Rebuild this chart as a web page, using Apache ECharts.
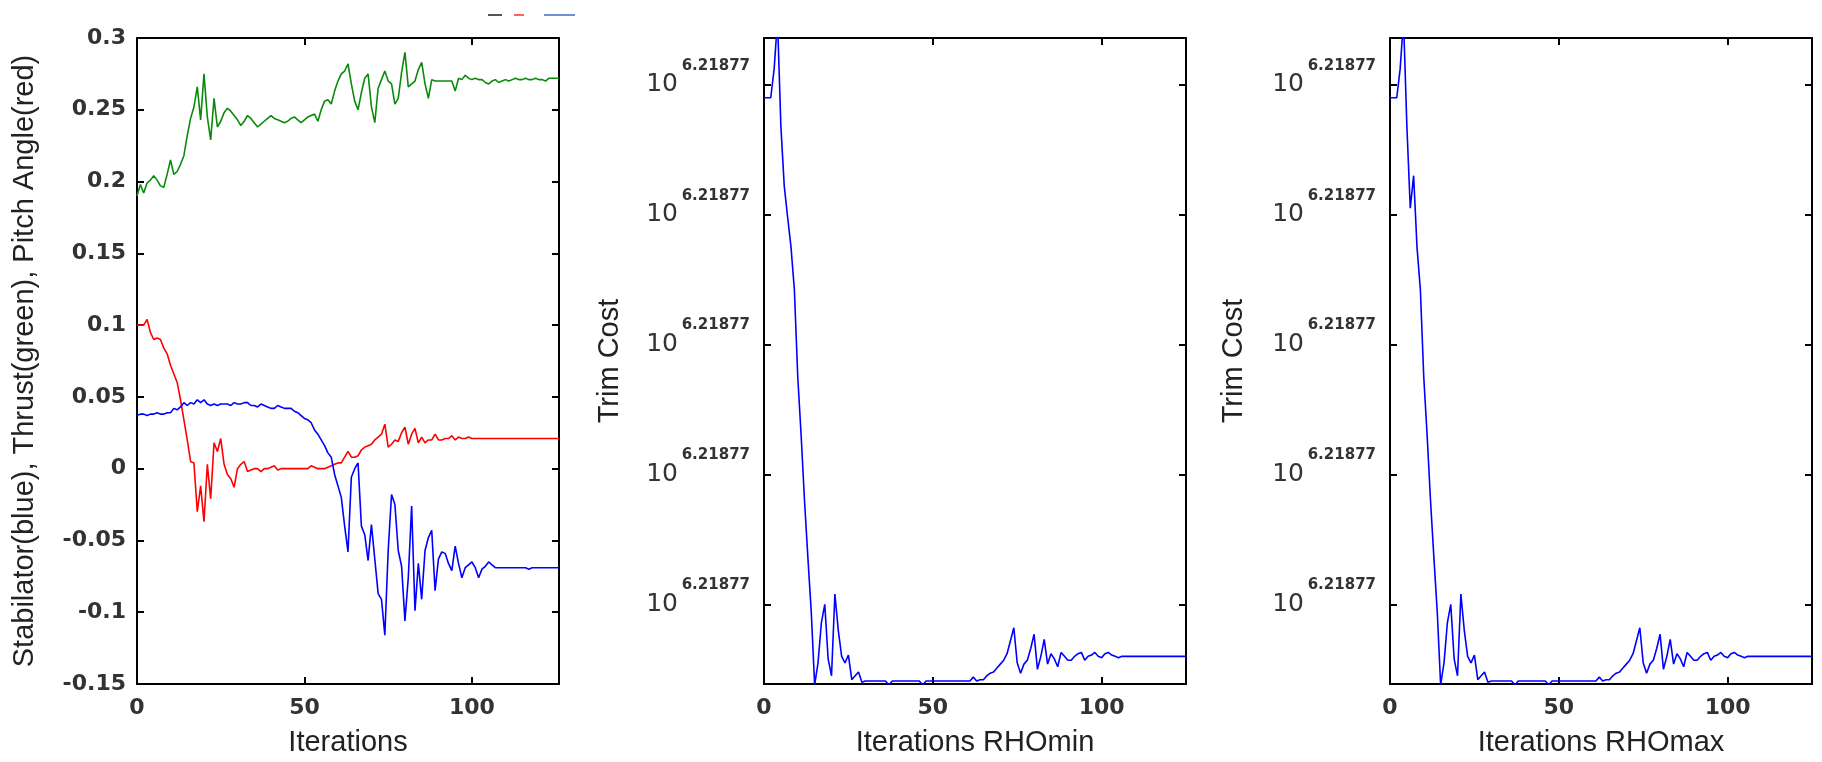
<!DOCTYPE html>
<html><head><meta charset="utf-8">
<script src="https://cdn.jsdelivr.net/npm/echarts@6/dist/echarts.min.js"></script>
<style>html,body{margin:0;padding:0;background:#fff}#c{width:1822px;height:762px}</style>
</head><body><div id="c"></div>
<script>
// ---- data (iteration index = position in array) ----
const thrust = [0.190,0.198,0.192,0.199,0.201,0.204,0.201,0.197,0.196,0.205,
 0.215,0.205,0.207,0.212,0.218,0.232,0.244,0.252,0.266,0.243,
 0.275,0.245,0.229,0.258,0.238,0.242,0.248,0.251,0.249,0.246,
 0.243,0.239,0.242,0.246,0.244,0.241,0.238,0.240,0.242,0.244,
 0.246,0.244,0.243,0.242,0.241,0.242,0.244,0.245,0.243,0.241,
 0.243,0.245,0.246,0.247,0.242,0.250,0.256,0.257,0.254,0.263,
 0.270,0.275,0.277,0.282,0.268,0.256,0.250,0.262,0.272,0.275,
 0.252,0.241,0.265,0.271,0.277,0.270,0.268,0.254,0.258,0.276,
 0.290,0.266,0.268,0.270,0.278,0.283,0.268,0.258,0.271,0.270,
 0.270,0.270,0.270,0.270,0.270,0.263,0.272,0.271,0.274,0.272,
 0.271,0.272,0.271,0.271,0.269,0.268,0.270,0.271,0.269,0.270,
 0.271,0.270,0.271,0.272,0.271,0.271,0.272,0.271,0.271,0.272,
 0.271,0.271,0.270,0.272,0.272,0.272,0.272];

const pitchAngle = [0.100,0.100,0.100,0.104,0.095,0.090,0.091,0.090,0.084,0.080,
 0.072,0.066,0.060,0.048,0.034,0.020,0.005,0.004,-0.030,-0.012,
 -0.037,0.003,-0.021,0.018,0.012,0.021,0.003,-0.004,-0.007,-0.013,
 0.000,0.003,0.005,-0.002,-0.001,0.000,0.000,-0.002,0.000,0.000,
 0.001,0.002,-0.001,0.000,0.000,0.000,0.000,0.000,0.000,0.000,
 0.000,0.000,0.002,0.001,0.000,0.000,0.000,0.001,0.002,0.003,
 0.004,0.004,0.008,0.012,0.008,0.008,0.009,0.013,0.015,0.016,
 0.017,0.020,0.022,0.024,0.031,0.015,0.017,0.020,0.019,0.025,
 0.029,0.017,0.024,0.028,0.018,0.022,0.018,0.020,0.020,0.024,
 0.020,0.020,0.021,0.021,0.023,0.020,0.022,0.021,0.021,0.022,
 0.021,0.021,0.021,0.021,0.021,0.021,0.021,0.021,0.021,0.021,
 0.021,0.021,0.021,0.021,0.021,0.021,0.021,0.021,0.021,0.021,
 0.021,0.021,0.021,0.021,0.021,0.021,0.021];

const stabilator = [0.037,0.038,0.038,0.037,0.038,0.038,0.039,0.038,0.038,0.039,
 0.039,0.042,0.041,0.043,0.046,0.044,0.046,0.045,0.048,0.046,
 0.048,0.045,0.044,0.045,0.044,0.045,0.045,0.045,0.044,0.046,
 0.045,0.045,0.046,0.046,0.044,0.044,0.043,0.045,0.044,0.043,
 0.042,0.042,0.044,0.043,0.042,0.042,0.042,0.040,0.039,0.037,
 0.035,0.034,0.032,0.027,0.024,0.020,0.016,0.011,0.008,-0.004,
 -0.012,-0.020,-0.040,-0.058,-0.006,0.000,0.004,-0.040,-0.046,-0.064,
 -0.039,-0.063,-0.087,-0.091,-0.116,-0.057,-0.018,-0.025,-0.057,-0.068,
 -0.106,-0.076,-0.026,-0.099,-0.066,-0.091,-0.057,-0.048,-0.043,-0.085,
 -0.063,-0.058,-0.059,-0.066,-0.071,-0.054,-0.066,-0.076,-0.069,-0.067,
 -0.065,-0.069,-0.076,-0.070,-0.068,-0.065,-0.067,-0.069,-0.069,-0.069,
 -0.069,-0.069,-0.069,-0.069,-0.069,-0.069,-0.069,-0.070,-0.069,-0.069,
 -0.069,-0.069,-0.069,-0.069,-0.069,-0.069,-0.069];

// Trim cost, expressed as offset in tick steps above the lowest labelled 10^6.21877 tick
const trimCostRhoMin = [3.90,3.90,3.90,4.12,4.50,3.68,3.22,2.98,2.75,2.42,
 1.75,1.30,0.80,0.36,-0.06,-0.62,-0.45,-0.14,0.00,-0.42,
 -0.55,0.08,-0.20,-0.40,-0.45,-0.39,-0.58,-0.55,-0.52,-0.60,
 -0.59,-0.59,-0.59,-0.59,-0.59,-0.59,-0.59,-0.62,-0.59,-0.59,
 -0.59,-0.59,-0.59,-0.59,-0.59,-0.59,-0.59,-0.62,-0.59,-0.59,
 -0.59,-0.59,-0.59,-0.59,-0.59,-0.59,-0.59,-0.59,-0.59,-0.59,
 -0.59,-0.59,-0.56,-0.59,-0.58,-0.58,-0.55,-0.53,-0.52,-0.49,
 -0.46,-0.43,-0.38,-0.28,-0.18,-0.45,-0.53,-0.46,-0.43,-0.34,
 -0.23,-0.50,-0.40,-0.27,-0.46,-0.38,-0.42,-0.48,-0.37,-0.40,
 -0.43,-0.43,-0.40,-0.38,-0.37,-0.43,-0.40,-0.39,-0.37,-0.40,
 -0.41,-0.38,-0.37,-0.39,-0.40,-0.41,-0.40,-0.40,-0.40,-0.40,
 -0.40,-0.40,-0.40,-0.40,-0.40,-0.40,-0.40,-0.40,-0.40,-0.40,
 -0.40,-0.40,-0.40,-0.40,-0.40,-0.40];

const trimCostRhoMax = [3.90,3.90,3.90,4.12,4.50,3.68,3.05,3.30,2.75,2.42,
 1.75,1.30,0.80,0.36,-0.06,-0.62,-0.45,-0.14,0.00,-0.42,
 -0.55,0.08,-0.20,-0.40,-0.45,-0.39,-0.58,-0.55,-0.52,-0.60,
 -0.59,-0.59,-0.59,-0.59,-0.59,-0.59,-0.59,-0.62,-0.59,-0.59,
 -0.59,-0.59,-0.59,-0.59,-0.59,-0.59,-0.59,-0.62,-0.59,-0.59,
 -0.59,-0.59,-0.59,-0.59,-0.59,-0.59,-0.59,-0.59,-0.59,-0.59,
 -0.59,-0.59,-0.56,-0.59,-0.58,-0.58,-0.55,-0.53,-0.52,-0.49,
 -0.46,-0.43,-0.38,-0.28,-0.18,-0.45,-0.53,-0.46,-0.43,-0.34,
 -0.23,-0.50,-0.40,-0.27,-0.46,-0.38,-0.42,-0.48,-0.37,-0.40,
 -0.43,-0.43,-0.40,-0.38,-0.37,-0.43,-0.40,-0.39,-0.37,-0.40,
 -0.41,-0.38,-0.37,-0.39,-0.40,-0.41,-0.40,-0.40,-0.40,-0.40,
 -0.40,-0.40,-0.40,-0.40,-0.40,-0.40,-0.40,-0.40,-0.40,-0.40,
 -0.40,-0.40,-0.40,-0.40,-0.40,-0.40];

const xTickValues = [0, 50, 100];
const costTickValues = [0, 1, 2, 3, 4];
const costTickBase = '10';
const costTickExponent = '6.21877';
const xTitles = ['Iterations', 'Iterations RHOmin', 'Iterations RHOmax'];
const yTitles = ['Stabilator(blue), Thrust(green), Pitch Angle(red)', 'Trim Cost', 'Trim Cost'];

// ---- styling ----
const TICK_FONT = 'DejaVu Sans';
const TITLE_FONT = 'Liberation Sans';
const AXIS_LINE = {show: true, onZero: false, lineStyle: {color: '#000', width: 2}};
const TICK = (vals) => ({show: true, inside: true, length: 7, customValues: vals, lineStyle: {color: '#000', width: 2}});
const pairs = arr => arr.map((v, i) => [i, v]);

const grids = [
  {left: 137, top: 38, width: 422, height: 649},
  {left: 764, top: 38, width: 422, height: 649},
  {left: 1390, top: 38, width: 422, height: 649}
];
const xMax = [126, 125, 125];

const xAxis = [], yAxis = [];
grids.forEach((g, gi) => {
  xAxis.push({
    type: 'value', gridIndex: gi, min: 0, max: xMax[gi], position: 'bottom',
    axisLine: AXIS_LINE, axisTick: TICK(xTickValues),
    axisLabel: {customValues: xTickValues, margin: 13, fontFamily: TICK_FONT, fontSize: 22, fontWeight: 'bold', color: '#333'},
    splitLine: {show: false},
    name: xTitles[gi], nameLocation: 'middle', nameGap: 44,
    nameTextStyle: {fontFamily: TITLE_FONT, fontSize: 29, color: '#222'}
  });
  xAxis.push({
    type: 'value', gridIndex: gi, min: 0, max: xMax[gi], position: 'top',
    axisLine: AXIS_LINE, axisTick: TICK(xTickValues), axisLabel: {show: false}, splitLine: {show: false}
  });
});

// panel 1 y axes
const yTicks1 = [-0.15, -0.1, -0.05, 0, 0.05, 0.1, 0.15, 0.2, 0.25, 0.3];
yAxis.push({
  type: 'value', gridIndex: 0, min: -0.15, max: 0.3, interval: 0.05, position: 'left',
  axisLine: AXIS_LINE, axisTick: TICK(yTicks1),
  axisLabel: {margin: 11, fontFamily: TICK_FONT, fontSize: 22, fontWeight: 'bold', color: '#333',
    formatter: v => String(+v.toFixed(2))},
  splitLine: {show: false},
  name: yTitles[0], nameLocation: 'middle', nameRotate: 90, nameGap: 98,
  nameTextStyle: {fontFamily: TITLE_FONT, fontSize: 29, color: '#222'}
});
yAxis.push({
  type: 'value', gridIndex: 0, min: -0.15, max: 0.3, interval: 0.05, position: 'right',
  axisLine: AXIS_LINE, axisTick: TICK(yTicks1), axisLabel: {show: false}, splitLine: {show: false}
});

const costLabel = {
  customValues: costTickValues, margin: 14,
  formatter: () => '{s|' + costTickExponent + '}\n{b|' + costTickBase + '}{sp| }\n{e| }',
  rich: {
    s: {fontFamily: TICK_FONT, fontWeight: 'bold', fontSize: 15, color: '#333', lineHeight: 14, align: 'right'},
    b: {fontFamily: TICK_FONT, fontSize: 25, color: '#333', lineHeight: 24},
    sp: {width: 72, fontSize: 10},
    e: {fontSize: 10, lineHeight: 14}
  }
};
[1, 2].forEach(gi => {
  yAxis.push({
    type: 'value', gridIndex: gi, min: -0.613, max: 4.36, position: 'left',
    axisLine: AXIS_LINE, axisTick: TICK(costTickValues), axisLabel: costLabel,
    splitLine: {show: false},
    name: yTitles[gi], nameLocation: 'middle', nameRotate: 90, nameGap: gi === 1 ? 140 : 142,
    nameTextStyle: {fontFamily: TITLE_FONT, fontSize: 29, color: '#222'}
  });
  yAxis.push({
    type: 'value', gridIndex: gi, min: -0.613, max: 4.36, position: 'right',
    axisLine: AXIS_LINE, axisTick: TICK(costTickValues), axisLabel: {show: false}, splitLine: {show: false}
  });
});

const line = (name, data, xi, yi, color) => ({
  name, type: 'line', xAxisIndex: xi, yAxisIndex: yi, data: pairs(data),
  showSymbol: false, symbol: 'none', clip: true, color,
  lineStyle: {width: 1.6, color}, animation: false
});

const option = {
  backgroundColor: '#fff',
  animation: false,
  grid: grids,
  xAxis, yAxis,
  graphic: [
    {type: 'line', shape: {x1: 488, y1: 15, x2: 502, y2: 15}, style: {stroke: '#555', lineWidth: 2}},
    {type: 'line', shape: {x1: 514, y1: 15, x2: 524, y2: 15}, style: {stroke: '#ff6060', lineWidth: 2}},
    {type: 'line', shape: {x1: 544, y1: 15, x2: 575, y2: 15}, style: {stroke: '#7090d0', lineWidth: 2}}
  ],
  series: [
    line('Thrust', thrust, 0, 0, '#0a8a0a'),
    line('Pitch Angle', pitchAngle, 0, 0, '#ff0000'),
    line('Stabilator', stabilator, 0, 0, '#0000ff'),
    line('Trim Cost RHOmin', trimCostRhoMin, 2, 2, '#0000ff'),
    line('Trim Cost RHOmax', trimCostRhoMax, 4, 4, '#0000ff')
  ]
};
const chart = echarts.init(document.getElementById('c'), null, {renderer: 'canvas'});
chart.setOption(option);
</script></body></html>
